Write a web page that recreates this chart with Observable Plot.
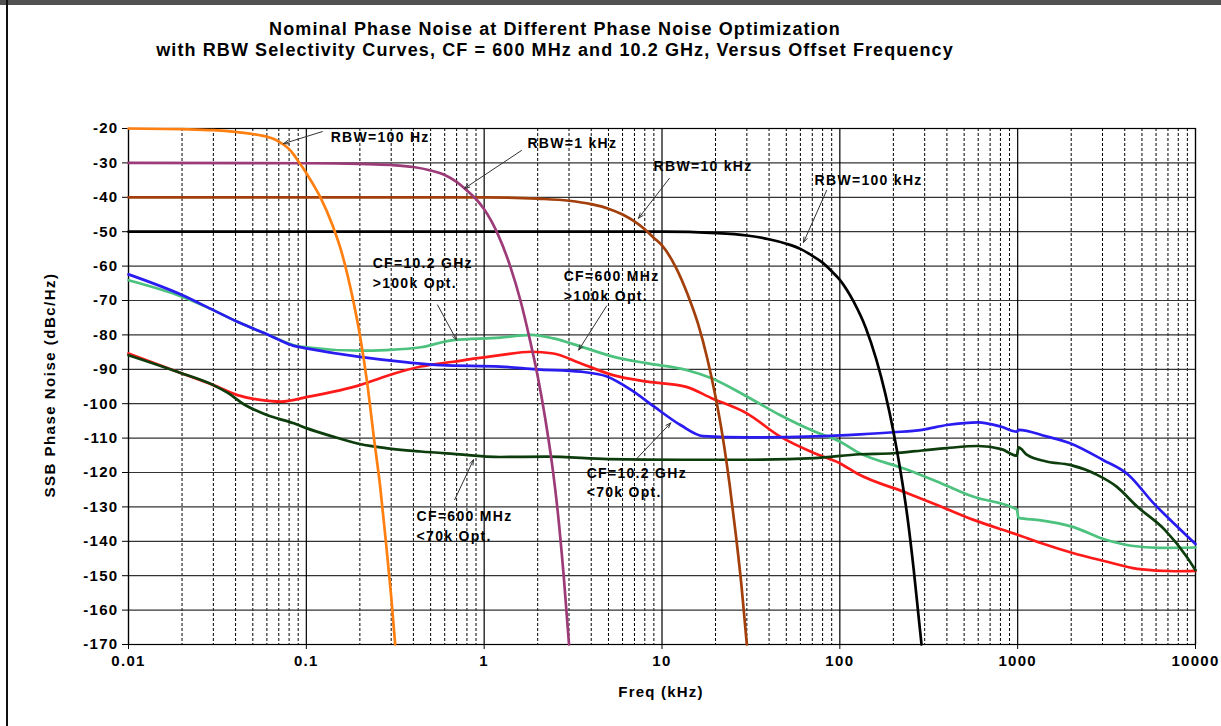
<!DOCTYPE html>
<html><head><meta charset="utf-8">
<script src="https://cdn.jsdelivr.net/npm/d3@7"></script>
<script src="https://cdn.jsdelivr.net/npm/@observablehq/plot@0.6"></script>
<style>
body{margin:0;background:#fff;font-family:"Liberation Sans",Arial,sans-serif;}
#wrap{position:relative;width:1221px;height:726px;overflow:hidden;background:#fff;}
#chart{position:absolute;left:0;top:0;}
.topbar{position:absolute;left:0;top:0;width:1221px;height:5px;background:#525252;}
.leftbar{position:absolute;left:6px;top:0;width:2px;height:726px;background:#111;}
.title{position:absolute;left:0;top:19px;width:1110px;text-align:center;font-weight:bold;font-size:18px;line-height:21px;letter-spacing:1.1px;color:#000;}
.xt{position:absolute;left:561px;top:683px;width:200px;text-align:center;font-weight:bold;font-size:15px;letter-spacing:1.2px;color:#000;}
.yt{position:absolute;left:-100px;top:375px;width:300px;text-align:center;font-weight:bold;font-size:15px;letter-spacing:1.5px;color:#000;transform:rotate(-90deg);transform-origin:150px 10px;line-height:20px;}
</style></head>
<body>
<div id="wrap">
  <div id="chart"></div>
  <div class="topbar"></div>
  <div class="leftbar"></div>
  <div class="title">Nominal Phase Noise at Different Phase Noise Optimization<br>with RBW Selectivity Curves, CF = 600 MHz and 10.2 GHz, Versus Offset Frequency</div>
  <div class="xt">Freq (kHz)</div>
  <div class="yt">SSB Phase Noise (dBc/Hz)</div>
</div>
<script>
// ---- Data (offset frequency kHz, dBc/Hz) ----
const rbw100Hz = [[0.01,-20],[0.02,-20.2],[0.03,-20.5],[0.04,-21],[0.05,-21.6],[0.06,-22.4],[0.065,-23],[0.07,-23.8],[0.075,-24.8],[0.08,-26],[0.085,-27.6],[0.09,-29.5],[0.095,-31.2],[0.1,-33],[0.11,-36.5],[0.12,-40],[0.14,-48],[0.16,-57],[0.18,-68],[0.2,-80],[0.22,-94],[0.24,-110],[0.26,-124],[0.28,-140],[0.3,-156],[0.316,-170]];
const rbw1kHz = [[0.01,-30],[0.1,-30.1],[0.2,-30.3],[0.3,-30.6],[0.4,-31.2],[0.5,-32.2],[0.6,-33.5],[0.7,-35.5],[0.8,-38],[0.9,-40.5],[1.0,-43.5],[1.2,-51],[1.4,-60],[1.6,-70],[1.8,-81],[2.0,-92],[2.2,-104],[2.4,-117],[2.6,-132],[2.8,-150],[3.0,-170]];
const rbw10kHz = [[0.01,-40],[1,-40],[2,-40.4],[3,-41],[4,-42],[5,-43.3],[6,-45],[7,-47],[8,-49.3],[9,-51.8],[10,-54],[12,-60.5],[14,-68.5],[16,-77],[18,-87],[20,-98],[22,-110],[24,-123.5],[26,-138],[28,-153],[30,-170]];
const rbw100kHz = [[0.01,-50],[10,-50],[20,-50.4],[30,-51.1],[40,-52.2],[50,-53.5],[60,-55],[70,-57],[80,-59],[90,-61.5],[100,-64],[120,-70.5],[140,-78],[160,-87],[180,-97],[200,-108],[220,-120],[240,-133],[260,-148],[280,-164],[288,-170]];

const cf10G_gt100k = [[0.01,-64.1],[0.02,-68.9],[0.03,-72.8],[0.041,-76.2],[0.06,-79.8],[0.085,-83],[0.1,-83.6],[0.2,-84.6],[0.28,-84.4],[0.44,-83.6],[0.67,-81.5],[1.23,-80.8],[1.83,-80],[2.45,-81],[3.5,-83.4],[5.3,-86.3],[8.3,-88.3],[13.7,-90.2],[19,-92.6],[30,-97.9],[46,-103.3],[72,-108.1],[100,-111],[125,-114],[240,-119.2],[370,-123.1],[560,-127],[990,-130.8],[1010,-133.2],[1350,-133.9],[2040,-135.8],[3100,-139.5],[4350,-141.3],[6300,-141.9],[10000,-141.8]];
const cf600M_gt100k = [[0.01,-85.4],[0.02,-91.2],[0.03,-94.6],[0.041,-97.5],[0.055,-98.9],[0.072,-99.4],[0.1,-98.1],[0.2,-94.6],[0.28,-92],[0.44,-89.2],[0.67,-87.8],[1.23,-85.9],[1.83,-84.9],[2.45,-85.4],[3.5,-88.3],[5.3,-91.7],[8.3,-93.6],[13.7,-95.1],[19,-98.4],[30,-102.8],[46,-109.5],[72,-114.4],[100,-117.3],[125,-120.3],[240,-126],[370,-129.9],[560,-133.7],[1000,-138.1],[1350,-140.5],[2040,-143.4],[3100,-145.8],[4700,-148],[7700,-148.7],[10000,-148.6]];
const cf600M_lt70k = [[0.01,-85.9],[0.02,-91.2],[0.03,-94.6],[0.036,-96.8],[0.045,-100.3],[0.06,-103.3],[0.085,-105.7],[0.1,-107.1],[0.14,-109.5],[0.2,-111.7],[0.28,-112.9],[0.44,-113.9],[0.67,-114.6],[1.23,-115.5],[2.25,-115.4],[5,-116.1],[12.7,-116.3],[30,-116.3],[72,-115.8],[130,-114.7],[200,-114.4],[290,-113.6],[400,-112.9],[600,-112.3],[810,-113.2],[990,-115.1],[1010,-112.7],[1130,-114.9],[1450,-116.8],[1970,-117.8],[2800,-120.7],[3600,-124.1],[4700,-129.9],[6700,-136.6],[8900,-144.4],[10000,-148.4]];
const cf10G_lt70k = [[0.01,-62.4],[0.02,-68.4],[0.03,-72.8],[0.041,-76.2],[0.06,-79.8],[0.085,-83.2],[0.1,-83.9],[0.2,-86.4],[0.37,-88],[0.57,-88.8],[1.23,-89.2],[1.98,-90],[3.5,-90.7],[4.9,-92.1],[6.7,-96],[9,-100.8],[12.7,-106.2],[17,-109.4],[30,-109.8],[72,-109.5],[130,-108.9],[200,-108.3],[290,-107.6],[400,-106.2],[600,-105.4],[810,-106.7],[990,-108.1],[1010,-107.6],[1450,-109.5],[1970,-111.5],[3000,-116.3],[4200,-120.7],[5800,-128.9],[7700,-135.2],[10000,-140.8]];

const xTicks = [0.01, 0.1, 1, 10, 100, 1000, 10000];
const xTickLabels = ["0.01","0.1","1","10","100","1000","10000"];
const yTicks = [-20,-30,-40,-50,-60,-70,-80,-90,-100,-110,-120,-130,-140,-150,-160,-170];

const labelText = ["RBW=100 Hz","RBW=1 kHz","RBW=10 kHz","RBW=100 kHz","CF=10.2 GHz\n>100k Opt.","CF=600 MHz\n>100k Opt.","CF=10.2 GHz\n<70k Opt.","CF=600 MHz\n<70k Opt."];
const labelF  = [0.137, 1.75, 8.97, 72.1, 0.236, 2.80, 3.77, 0.417];
const labelDb = [-22.0, -23.8, -30.4, -34.5, -61.6, -65.3, -122.5, -135.2];
const arrowF1  = [0.123, 1.62, 11.0, 84.3, 0.547, 4.88, 7.02, 0.683];
const arrowDb1 = [-20.9, -26.4, -34.5, -38.0, -71.3, -71.6, -116.6, -127.9];
const arrowF2  = [0.0745, 0.776, 7.38, 62.5, 0.700, 3.40, 11.2, 0.871];
const arrowDb2 = [-24.4, -37.4, -46.1, -53.1, -81.5, -84.4, -105.6, -116.3];

// ---- build ----
const minorTicks = [];
for (let e = -2; e < 4; e++) for (let m = 2; m <= 9; m++) minorTicks.push(m * Math.pow(10, e));
const labels = labelText.map((t, i) => ({t, x: labelF[i], y: labelDb[i]}));
const arrows = arrowF1.map((f, i) => ({x1: f, y1: arrowDb1[i], x2: arrowF2[i], y2: arrowDb2[i]}));
const toObj = a => a.map(([x, y]) => ({x, y}));
const xLabelOf = d => {
  const i = xTicks.findIndex(t => Math.abs(Math.log10(t) - Math.log10(d)) < 1e-6);
  return i >= 0 ? xTickLabels[i] : "";
};
const F = "Liberation Sans, Arial, sans-serif";

const noise = [
  [cf10G_gt100k, "#4cc27e"],
  [cf600M_gt100k, "#ff1a1a"],
  [cf600M_lt70k, "#0d3d0d"],
  [cf10G_lt70k, "#2a1cf0"]
];
const rbw = [
  [rbw100kHz, "#000000"],
  [rbw10kHz, "#a23f0a"],
  [rbw1kHz, "#9c3b78"],
  [rbw100Hz, "#ff7f10"]
];

const chart = Plot.plot({
  width: 1221, height: 726,
  marginTop: 128, marginLeft: 128, marginRight: 26, marginBottom: 82,
  style: {fontFamily: F, fontSize: "15px", fontWeight: "bold", color: "#000", background: "transparent", letterSpacing: "1.3px"},
  x: {type: "log", domain: [0.01, 10000]},
  y: {domain: [-170, -20]},
  marks: [
    Plot.ruleX(minorTicks, {stroke: "#000", strokeWidth: 1, strokeDasharray: "3,2"}),
    Plot.ruleY(yTicks, {stroke: "#333", strokeWidth: 1.2}),
    Plot.ruleX(xTicks, {stroke: "#000", strokeWidth: 1.2}),
    Plot.frame({stroke: "#000", strokeWidth: 1.2}),
    Plot.axisX({ticks: xTicks, tickSize: 5, tickPadding: 6, tickFormat: xLabelOf, label: null, fontSize: 15, fontWeight: "bold"}),
    Plot.axisY({ticks: yTicks, tickSize: 6, tickPadding: 4, tickFormat: d => String(d), label: null, fontSize: 15, fontWeight: "bold"}),
    ...noise.map(([d, c]) => Plot.line(toObj(d), {x: "x", y: "y", stroke: c, strokeWidth: 2.7, curve: "monotone-x"})),
    ...rbw.map(([d, c]) => Plot.line(toObj(d), {x: "x", y: "y", stroke: c, strokeWidth: 2.7, curve: "monotone-x"})),
    Plot.arrow(arrows, {x1: "x1", y1: "y1", x2: "x2", y2: "y2", stroke: "#333", strokeWidth: 1, headLength: 8, headAngle: 40}),
    Plot.text(labels, {x: "x", y: "y", text: "t", textAnchor: "start", lineAnchor: "middle", fontSize: 14, fontWeight: "bold", lineHeight: 1.42, fill: "#000"})
  ]
});
document.getElementById("chart").appendChild(chart);
</script>
</body></html>
